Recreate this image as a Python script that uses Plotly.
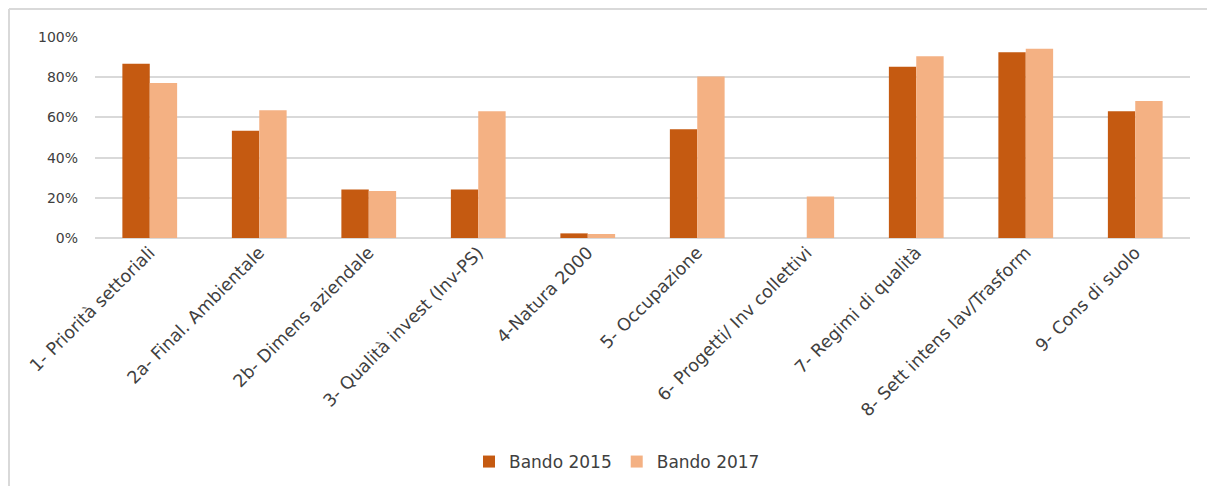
import plotly.graph_objects as go

categories = [
    "1- Priorità settoriali",
    "2a- Final. Ambientale",
    "2b- Dimens aziendale",
    "3- Qualità invest (Inv-PS)",
    "4-Natura 2000",
    "5- Occupazione",
    "6- Progetti/ Inv collettivi",
    "7- Regimi di qualità",
    "8- Sett intens lav/Trasform",
    "9- Cons di suolo",
]
bando_2015 = [0.867, 0.533, 0.241, 0.241, 0.023, 0.541, 0.0, 0.852, 0.924, 0.630]
bando_2017 = [0.771, 0.636, 0.234, 0.630, 0.020, 0.803, 0.207, 0.904, 0.942, 0.681]

font_family = "'DejaVu Sans', sans-serif"
text_color = "#404040"

W, H = 1199, 478
L, R, T, B = 87, 17, 29, 248
PW, PH = W - L - R, H - T - B

fig = go.Figure()
fig.add_trace(go.Bar(x=categories, y=bando_2015, name="Bando 2015",
                     marker=dict(color="#C55A11", line=dict(width=0))))
fig.add_trace(go.Bar(x=categories, y=bando_2017, name="Bando 2017",
                     marker=dict(color="#F4B183", line=dict(width=0))))

fig.update_layout(
    width=W, height=H,
    margin=dict(l=L, r=R, t=T, b=B, autoexpand=False),
    paper_bgcolor="white", plot_bgcolor="white",
    barmode="group", bargap=0.5, bargroupgap=0,
    font=dict(family=font_family, size=17, color=text_color),
    showlegend=True,
    legend=dict(orientation="h", x=(617 - 8 - L) / PW, xanchor="center",
                y=(T + PH - 454) / PH, yanchor="middle",
                font=dict(size=17, color=text_color),
                itemwidth=30, traceorder="normal"),
    xaxis=dict(tickangle=-45, showgrid=False, showline=False, ticks="",
               tickfont=dict(size=17.5, color=text_color)),
    yaxis=dict(range=[0, 1.0], dtick=0.2, tickformat=".0%", showgrid=True,
               gridcolor="#D9D9D9", gridwidth=2, zeroline=True, zerolinecolor="#D9D9D9",
               zerolinewidth=2, showline=False, ticks="", ticklabelstandoff=16,
               tickfont=dict(size=14, color=text_color)),
    shapes=[
        dict(type="line", xref="paper", yref="paper", x0=-(L - 1) / PW, x1=1.05,
             y0=1 + (T - 1) / PH, y1=1 + (T - 1) / PH, line=dict(color="#D9D9D9", width=2)),
        dict(type="line", xref="paper", yref="paper", x0=-(L - 1) / PW, x1=-(L - 1) / PW,
             y0=1 + (T - 1) / PH, y1=-1.4, line=dict(color="#D9D9D9", width=2)),
    ],
)

fig.write_html("out.html")
